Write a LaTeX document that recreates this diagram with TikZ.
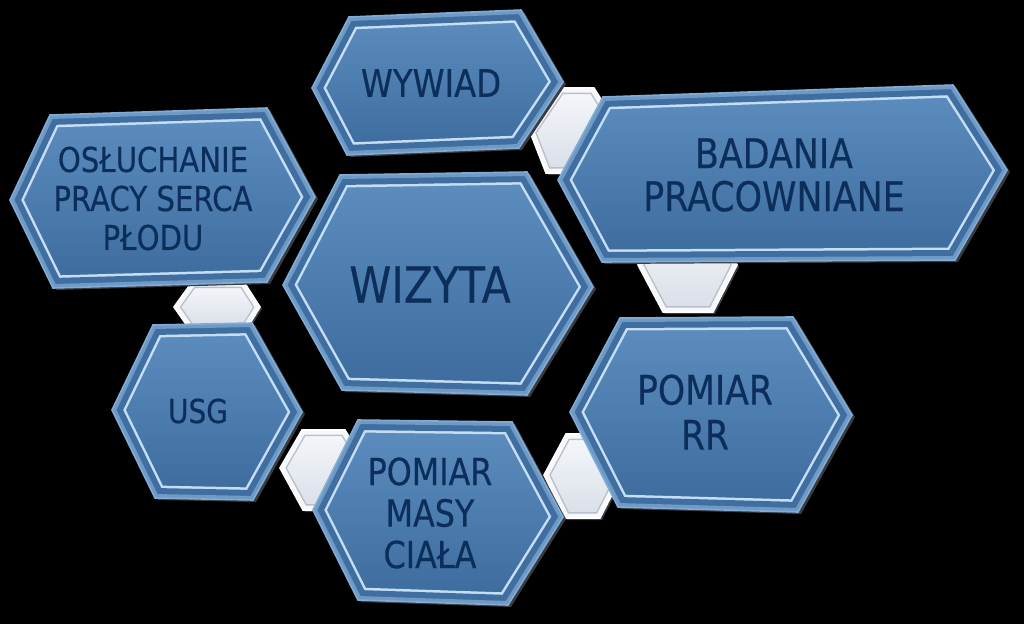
\documentclass[tikz,border=0pt]{standalone}
\usepackage{fontspec}
\setmainfont[FakeStretch=0.85,FakeBold=0.4]{DejaVu Sans}
\definecolor{faceTop}{RGB}{94,142,192}
\definecolor{faceBot}{RGB}{60,106,156}
\definecolor{bevelCol}{RGB}{64,110,160}
\definecolor{hiCol}{RGB}{196,222,245}
\definecolor{rimCol}{RGB}{130,172,214}
\definecolor{shCol}{RGB}{58,60,66}
\definecolor{txtCol}{RGB}{12,46,90}
\definecolor{linkTop}{RGB}{246,248,251}
\definecolor{linkBot}{RGB}{216,222,232}
\definecolor{linkEdge}{RGB}{186,192,202}
\newcommand\hexcell[1]{%
  \fill[shCol,shift={(3,2)}] #1;
  \fill[bevelCol] #1;
  \begin{scope}
    \clip #1;
    \fill[top color=faceTop,bottom color=faceBot] #1;
    \draw[hiCol,line width=25pt,line join=miter] #1;
    \draw[bevelCol,line width=20pt,line join=miter] #1;
    \draw[rimCol!70!bevelCol,line width=8pt,line join=miter] #1;
  \end{scope}
  \draw[rimCol,line width=1.6pt,line join=miter] #1;
}
\newcommand\linkcell[1]{%
  \fill[shCol,shift={(2,2)}] #1;
  \path[top color=linkTop,bottom color=linkBot] #1;
  \begin{scope}
    \clip #1;
    \draw[linkEdge,line width=12pt,line join=miter] #1;
    \draw[linkTop,line width=9pt,line join=miter] #1;
  \end{scope}
  \draw[white,line width=1.6pt,line join=miter] #1;
}
\begin{document}
\begin{tikzpicture}[x=1pt,y=-1pt,
  lbl/.style={text=txtCol,align=center,inner sep=0pt}]
\fill[black] (0,0) rectangle (1024,624);
\useasboundingbox (0,0) rectangle (1024,624);
% connectors (behind)
\linkcell{(530,132)--(560,88)--(594,88)--(620,130)--(594,173)--(546,173)--cycle}
\linkcell{(638,265)--(662,218)--(713,218)--(737,265)--(713,312)--(663,312)--cycle}
\linkcell{(174,307)--(192,282)--(244,282)--(260,307)--(246,330)--(190,330)--cycle}
\linkcell{(280,468)--(302,430)--(345,430)--(368,468)--(345,510)--(303,510)--cycle}
\linkcell{(544,475)--(566,434)--(600,434)--(622,475)--(600,518)--(565,518)--cycle}
% main hexagons
\hexcell{(312,88)--(349,17)--(521,10)--(563,82)--(519,148)--(347,155)--cycle}
\hexcell{(558,180)--(603,97)--(953,85)--(1007,170)--(955,260)--(602,262)--cycle}
\hexcell{(10,200)--(50,115)--(267,108)--(315,197)--(267,282)--(53,288)--cycle}
\hexcell{(283,285)--(340,175)--(527,172)--(593,287)--(527,395)--(342,390)--cycle}
\hexcell{(112,410)--(153,325)--(252,323)--(302,412)--(253,500)--(155,498)--cycle}
\hexcell{(313,510)--(358,420)--(512,422)--(563,517)--(508,605)--(358,600)--cycle}
\hexcell{(570,412)--(620,318)--(793,317)--(852,415)--(798,512)--(618,507)--cycle}
% labels
\node[lbl,font=\fontsize{38}{42}\selectfont] (wywiad) at (431,83) {WYWIAD};
\node[lbl,font=\fontsize{41}{43}\selectfont] (badania) at (774,175) {BADANIA\\PRACOWNIANE};
\node[lbl,font=\fontsize{34.3}{39}\selectfont] (osl) at (153,198.5) {OSŁUCHANIE\\PRACY SERCA\\PŁODU};
\node[lbl,font=\fontsize{50}{55}\selectfont] (wizyta) at (430,284.5) {WIZYTA};
\node[lbl,font=\fontsize{33}{38}\selectfont] (usg) at (198,411) {USG};
\node[lbl,font=\fontsize{37.4}{41.5}\selectfont] (masy) at (430,513) {POMIAR\\MASY\\CIAŁA};
\node[lbl,font=\fontsize{40.7}{45}\selectfont] (rr) at (705,412) {POMIAR\\RR};
\end{tikzpicture}
\end{document}
